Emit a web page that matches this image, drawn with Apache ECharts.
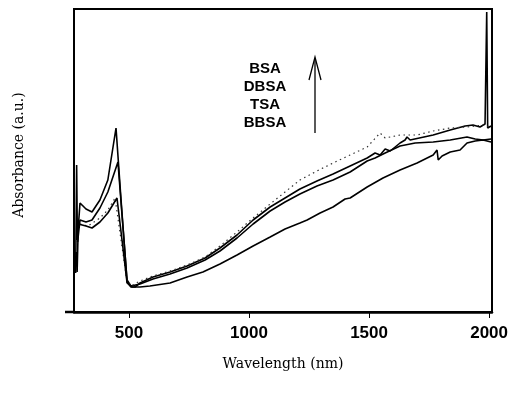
<!DOCTYPE html>
<html>
<head>
<meta charset="utf-8">
<script src="https://cdn.jsdelivr.net/npm/echarts@6/dist/echarts.min.js"></script>
<style>
  html, body { margin: 0; padding: 0; background: #fff; }
  #chart { width: 529px; height: 393px; }
</style>
</head>
<body>
<div id="chart"></div>
<script>
// tick labels on the wavelength axis
const xTicks = [500, 1000, 1500, 2000];
const sampleNames = ["BSA", "DBSA", "TSA", "BBSA"];

// BSA (solid, highest peak near 440 nm)
const bsaNm = [278, 282, 285, 296, 321, 346, 379, 412, 446, 467, 492, 508, 525, 546, 600, 671, 742, 817, 879, 950, 1017, 1088, 1150, 1212, 1283, 1350, 1421, 1492, 1525, 1546, 1567, 1588, 1629, 1650, 1658, 1671, 1767, 1838, 1900, 1933, 1962, 1983, 1990, 1994, 2008];
const bsaAbs = [39, 147, 72, 109, 103, 100, 112, 132, 184, 112, 30, 25, 25, 29, 35, 40, 46, 54, 64, 77, 92, 105, 114, 123, 131, 138, 146, 154, 159, 157, 163, 161, 169, 172, 175, 172, 177, 182, 186, 187, 185, 188, 300, 184, 186];

// DBSA (solid)
const dbsaNm = [286, 296, 321, 346, 379, 412, 454, 471, 492, 508, 546, 600, 671, 742, 817, 879, 950, 1017, 1088, 1150, 1212, 1283, 1350, 1421, 1492, 1525, 1567, 1629, 1692, 1767, 1838, 1908, 1942, 1975, 2008];
const dbsaAbs = [70, 92, 90, 92, 104, 120, 150, 97, 32, 26, 28, 33, 38, 44, 52, 61, 74, 88, 101, 110, 118, 126, 132, 140, 151, 154, 159, 166, 169, 170, 172, 175, 173, 172, 173];

// TSA (dotted)
const tsaNm = [296, 329, 379, 412, 442, 467, 492, 508, 546, 600, 671, 742, 817, 879, 950, 1017, 1088, 1150, 1212, 1283, 1350, 1421, 1492, 1546, 1567, 1629, 1700, 1767, 1838, 1908, 1975, 2008];
const tsaAbs = [88, 86, 94, 102, 114, 72, 30, 26, 31, 36, 41, 47, 55, 66, 80, 94, 108, 120, 132, 141, 149, 157, 165, 179, 174, 177, 177, 181, 184, 185, 187, 185];

// BBSA (solid, lowest in the NIR)
const bbsaNm = [280, 284, 289, 296, 321, 346, 379, 412, 450, 471, 492, 512, 546, 587, 671, 742, 808, 879, 950, 1017, 1088, 1150, 1212, 1242, 1296, 1350, 1400, 1421, 1492, 1558, 1629, 1700, 1767, 1783, 1788, 1804, 1838, 1879, 1908, 1942, 1975, 2008];
const bbsaAbs = [60, 40, 88, 89, 86, 84, 90, 99, 114, 72, 29, 25, 25, 26, 29, 35, 40, 48, 57, 66, 75, 83, 89, 92, 99, 105, 113, 114, 125, 134, 142, 149, 157, 162, 152, 156, 160, 162, 169, 171, 172, 170];

const zip = (xs, ys) => xs.map((x, i) => [x, ys[i]]);

const serifFont = "'DejaVu Serif', 'Liberation Serif', serif";
const sansFont = "'Liberation Sans', Arial, sans-serif";

const chart = echarts.init(document.getElementById("chart"));

const lineSeries = (name, nm, abs, type) => ({
  name: name,
  type: "line",
  data: zip(nm, abs),
  showSymbol: false,
  symbol: "none",
  animation: false,
  lineStyle: {
    color: type === "dotted" ? "#333" : "#000",
    width: type === "dotted" ? 1.2 : 1.6,
    type: type === "dotted" ? [1.5, 3.5] : "solid",
  },
});

const option = {
  backgroundColor: "#fff",
  animation: false,
  grid: {
    left: 74,
    right: 37,
    top: 9,
    bottom: 81,
    show: true,
    borderColor: "#000",
    borderWidth: 2,
  },
  xAxis: {
    type: "value",
    min: 271,
    max: 2012,
    axisLine: { show: true, lineStyle: { color: "#000", width: 2.5 } },
    axisTick: {
      show: true,
      customValues: xTicks,
      length: 6,
      lineStyle: { color: "#000", width: 1 },
    },
    axisLabel: {
      customValues: xTicks,
      formatter: (v) => String(v),
      color: "#000",
      fontFamily: sansFont,
      fontSize: 17,
      fontWeight: "bold",
      margin: 13,
    },
    splitLine: { show: false },
  },
  yAxis: {
    type: "value",
    min: 0,
    max: 303,
    axisLine: { show: false },
    axisTick: { show: false },
    axisLabel: { show: false },
    splitLine: { show: false },
  },
  series: [
    lineSeries(sampleNames[0], bsaNm, bsaAbs, "solid"),
    lineSeries(sampleNames[1], dbsaNm, dbsaAbs, "solid"),
    lineSeries(sampleNames[2], tsaNm, tsaAbs, "dotted"),
    lineSeries(sampleNames[3], bbsaNm, bbsaAbs, "solid"),
  ],
  graphic: [
    // axis line stub left of the frame
    { type: "line", shape: { x1: 65, y1: 312, x2: 75, y2: 312 }, style: { stroke: "#000", lineWidth: 2.5 } },
    // sample labels
    ...sampleNames.map((s, i) => ({
      type: "text",
      x: 265,
      y: 69 + i * 18,
      style: {
        text: s,
        fill: "#000",
        font: "bold 15px " + sansFont,
        textAlign: "center",
        textVerticalAlign: "middle",
      },
    })),
    // arrow
    { type: "line", shape: { x1: 315, y1: 133, x2: 315, y2: 58 }, style: { stroke: "#000", lineWidth: 1.3 } },
    { type: "polyline", shape: { points: [[309, 80], [315, 57], [321, 80]] }, style: { stroke: "#000", lineWidth: 1.3, fill: null } },
    // axis titles
    {
      type: "text",
      x: 283,
      y: 364,
      style: {
        text: "Wavelength (nm)",
        fill: "#000",
        font: "14px " + serifFont,
        textAlign: "center",
        textVerticalAlign: "middle",
      },
    },
    {
      type: "text",
      x: 19,
      y: 155,
      rotation: Math.PI / 2,
      style: {
        text: "Absorbance (a.u.)",
        fill: "#000",
        font: "14px " + serifFont,
        textAlign: "center",
        textVerticalAlign: "middle",
      },
    },
  ],
};

chart.setOption(option);
</script>
</body>
</html>
